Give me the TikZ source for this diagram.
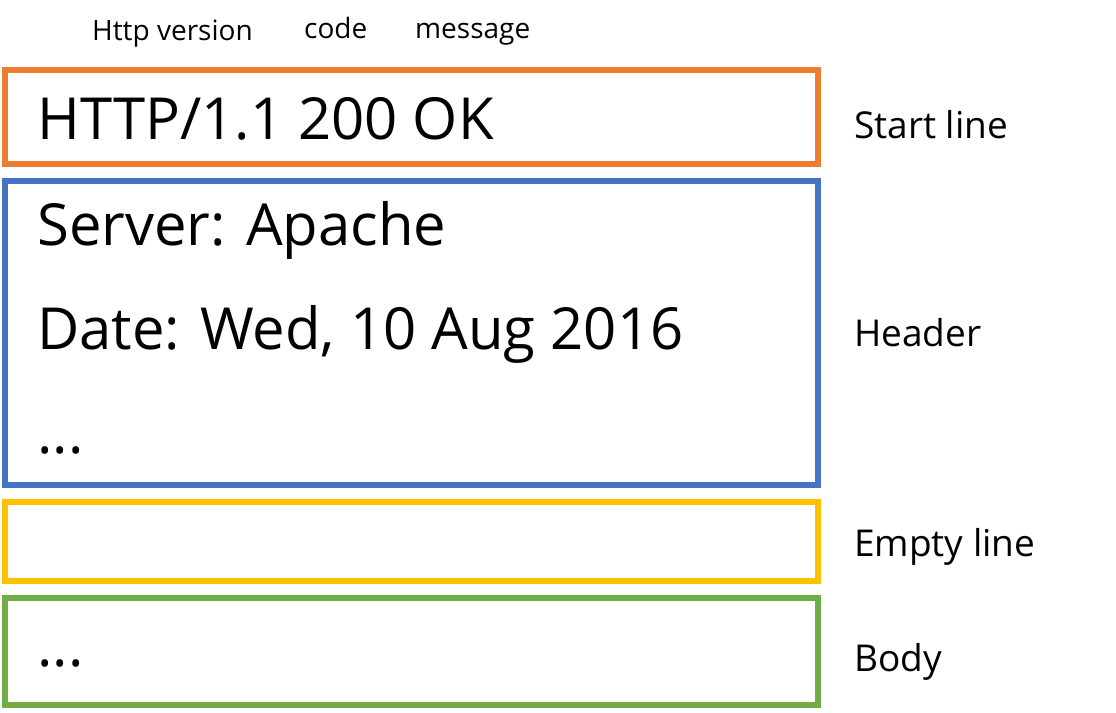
\documentclass[tikz,border=0pt]{standalone}
\usepackage{fontspec}
\setmainfont{Open Sans}
\definecolor{oorange}{HTML}{ED7D31}
\definecolor{oblue}{HTML}{4472C4}
\definecolor{oyellow}{HTML}{FFC000}
\definecolor{ogreen}{HTML}{70AD47}
\begin{document}
\begin{tikzpicture}[x=1pt,y=-1pt,
  panel/.style={draw=#1, line width=6pt, inner sep=0pt, outer sep=0pt, minimum width=813pt},
  bigtext/.style={anchor=base west, inner sep=0pt, font=\fontsize{58}{64}\selectfont},
  sidelabel/.style={anchor=base west, inner sep=0pt, font=\fontsize{37}{42}\selectfont},
  toplabel/.style={anchor=base west, inner sep=0pt, font=\fontsize{28}{32}\selectfont}]
\useasboundingbox[fill=white] (0,0) rectangle (1116,712);
\node[panel=oorange, minimum height=94pt] (start) at (411.5,117) {};
\node[panel=oblue, minimum height=304pt] (header) at (411.5,333) {};
\node[panel=oyellow, minimum height=79pt] (empty) at (411.5,541.5) {};
\node[panel=ogreen, minimum height=107pt] (body) at (411.5,651.5) {};
\node[toplabel] (ver) at (92,40) {Http version};
\node[toplabel] (code) at (304,38) {code};
\node[toplabel] (msg) at (415,38) {message};
\node[bigtext] (sl) at (37,139) {HTTP/1.1 200 OK};
\node[bigtext] (srv) at (37,245) {Server: Apache};
\node[bigtext] (date) at (37,349) {Date: Wed, 10 Aug 2016};
\node[bigtext] (hdots) at (37,453) {...};
\node[bigtext] (bdots) at (37,666) {...};
\node[sidelabel] (lstart) at (854,138) {Start line};
\node[sidelabel] (lheader) at (854,346) {Header};
\node[sidelabel] (lempty) at (854,556) {Empty line};
\node[sidelabel] (lbody) at (854,671) {Body};
\end{tikzpicture}
\end{document}
